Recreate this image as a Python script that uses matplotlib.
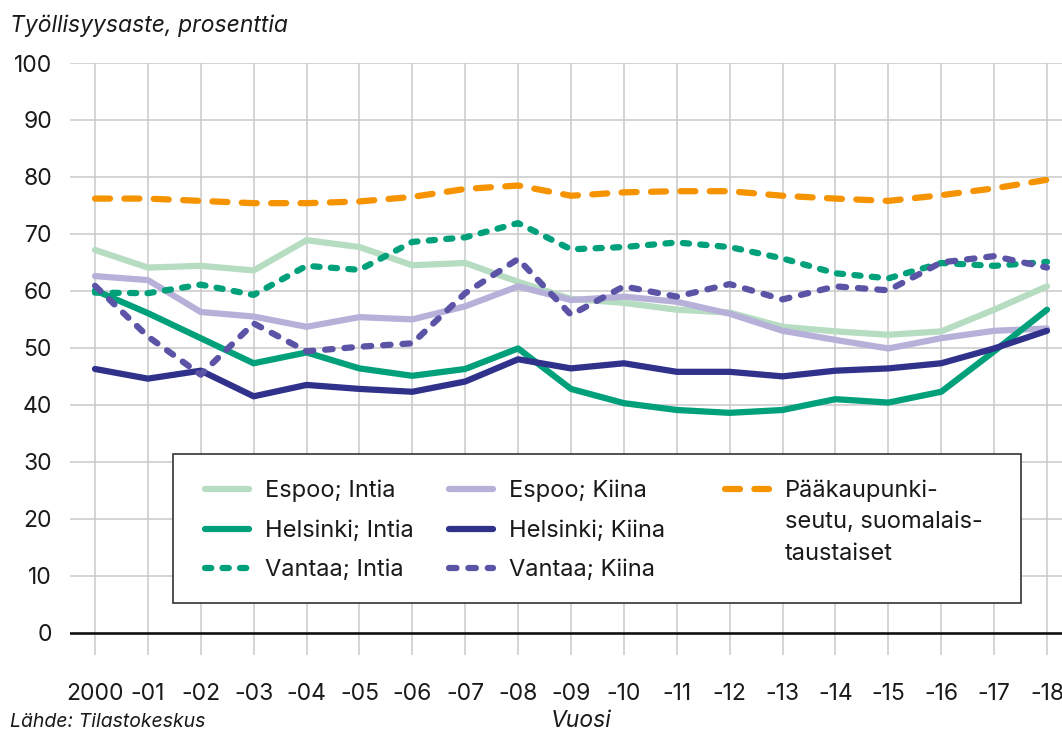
import matplotlib
matplotlib.use('Agg')
import matplotlib.pyplot as plt
from matplotlib.lines import Line2D
from matplotlib.patches import Rectangle

plt.rcParams['font.family'] = ['Inter', 'DejaVu Sans']

# Data (employment rate, %)
years = list(range(2000, 2019))
year_labels = ['2000', '-01', '-02', '-03', '-04', '-05', '-06', '-07', '-08', '-09',
               '-10', '-11', '-12', '-13', '-14', '-15', '-16', '-17', '-18']

espoo_intia = [67.2, 64.1, 64.4, 63.6, 68.9, 67.7, 64.5, 64.9, 61.6, 58.6,
               57.9, 56.7, 56.2, 53.7, 52.9, 52.3, 52.9, 56.7, 60.8]
espoo_kiina = [62.6, 61.9, 56.3, 55.5, 53.7, 55.4, 55.0, 57.3, 60.8, 58.4,
               59.0, 58.1, 56.0, 53.0, 51.4, 49.9, 51.7, 53.0, 53.4]
helsinki_intia = [60.1, 56.1, 51.7, 47.3, 49.2, 46.4, 45.1, 46.3, 49.9, 42.8,
                  40.3, 39.1, 38.6, 39.1, 41.0, 40.4, 42.3, 49.4, 56.7]
helsinki_kiina = [46.3, 44.6, 46.0, 41.5, 43.5, 42.8, 42.3, 44.1, 48.0, 46.4,
                  47.3, 45.8, 45.8, 45.0, 46.0, 46.4, 47.3, 49.9, 53.0]
vantaa_intia = [59.7, 59.6, 61.1, 59.3, 64.4, 63.7, 68.6, 69.4, 71.9, 67.3,
                67.7, 68.5, 67.7, 65.7, 63.1, 62.2, 64.9, 64.4, 65.1]
vantaa_kiina = [60.9, 52.0, 45.3, 54.3, 49.4, 50.2, 50.8, 59.6, 65.6, 55.8,
                60.8, 59.0, 61.2, 58.5, 60.8, 60.1, 65.0, 66.1, 64.1]
paakaupunkiseutu = [76.2, 76.2, 75.8, 75.4, 75.4, 75.7, 76.5, 77.9, 78.5, 76.7,
                    77.3, 77.5, 77.5, 76.7, 76.2, 75.8, 76.8, 78.0, 79.5]

LIGHT_GREEN = '#b6dcc1'
LAVENDER = '#b7b1da'
TEAL = '#00a07b'
NAVY = '#30318b'
PURPLE = '#5b53a6'
ORANGE = '#f59300'
TEXT = '#1a1a1a'

W, H = 1062, 731
fig = plt.figure(figsize=(W / 100, H / 100), dpi=100)


def fx(px):
    return px / W


def fy(py):
    return 1 - py / H


ax = fig.add_axes([fx(70), fy(655), fx(1062) - fx(70), fy(63) - fy(655)])
ax.set_xlim(2000 - 25 / 52.9, 2018 + 15 / 52.9)
ax.set_ylim(-3.9, 100)
for s in ax.spines.values():
    s.set_visible(False)

# grid
for yv in range(10, 101, 10):
    ax.axhline(yv, color='#c9c9c9', lw=1.1, zorder=1)
for xv in years:
    ax.axvline(xv, color='#c9c9c9', lw=1.1, zorder=1)
ax.axhline(0, color='#111111', lw=1.9, zorder=2)

lw = 4.5
series = [
    (espoo_intia, LIGHT_GREEN, None),
    (espoo_kiina, LAVENDER, None),
    (helsinki_intia, TEAL, None),
    (helsinki_kiina, NAVY, None),
    (vantaa_intia, TEAL, (1.0, 1.8)),
    (vantaa_kiina, PURPLE, (1.2, 1.9)),
    (paakaupunkiseutu, ORANGE, (2.4, 2.3)),
]
for i, (vals, col, dash) in enumerate(series):
    line, = ax.plot(years, vals, color=col, lw=lw, zorder=3 + i,
                    solid_capstyle='round', solid_joinstyle='round',
                    dash_capstyle='round', dash_joinstyle='round')
    if dash:
        line.set_dashes(dash)

ax.set_yticks(range(0, 101, 10))
ax.set_xticks(years)
ax.set_xticklabels(year_labels)
ax.tick_params(axis='both', length=0, labelsize=16.5, colors=TEXT)
ax.tick_params(axis='y', pad=13)
ax.tick_params(axis='x', pad=20)

# texts
fig.text(fx(10), fy(32), 'Työllisyysaste, prosenttia', fontsize=16.5,
         style='italic', color=TEXT, ha='left', va='baseline')
fig.text(fx(10), fy(727), 'Lähde: Tilastokeskus', fontsize=14,
         style='italic', color=TEXT, ha='left', va='baseline')
fig.text(fx(581), fy(727), 'Vuosi', fontsize=16.5,
         style='italic', color=TEXT, ha='center', va='baseline')

# legend drawn by hand to match the reference layout
fig.add_artist(Rectangle((fx(173), fy(603)), fx(1021) - fx(173), fy(454) - fy(603),
                         transform=fig.transFigure, facecolor='white',
                         edgecolor='#333333', lw=1.2, zorder=20))
entries = [
    (202, 489, ['Espoo; Intia'], LIGHT_GREEN, None),
    (202, 529, ['Helsinki; Intia'], TEAL, None),
    (202, 568, ['Vantaa; Intia'], TEAL, (1.0, 1.8)),
    (446, 489, ['Espoo; Kiina'], LAVENDER, None),
    (446, 529, ['Helsinki; Kiina'], NAVY, None),
    (446, 568, ['Vantaa; Kiina'], PURPLE, (1.2, 1.9)),
    (722, 489, ['Pääkaupunki-', 'seutu, suomalais-', 'taustaiset'], ORANGE, (2.4, 2.3)),
]
for x0, y0, lines, col, dash in entries:
    ln = Line2D([fx(x0 + 3), fx(x0 + 47)], [fy(y0), fy(y0)], transform=fig.transFigure,
                color=col, lw=lw, solid_capstyle='round', dash_capstyle='round',
                zorder=21)
    if dash:
        ln.set_dashes(dash)
    fig.add_artist(ln)
    for k, text in enumerate(lines):
        fig.text(fx(x0 + 63), fy(y0 + 8 + 31.5 * k), text, fontsize=17, color=TEXT,
                 ha='left', va='baseline', zorder=22)

fig.savefig('out.png', dpi=100)
